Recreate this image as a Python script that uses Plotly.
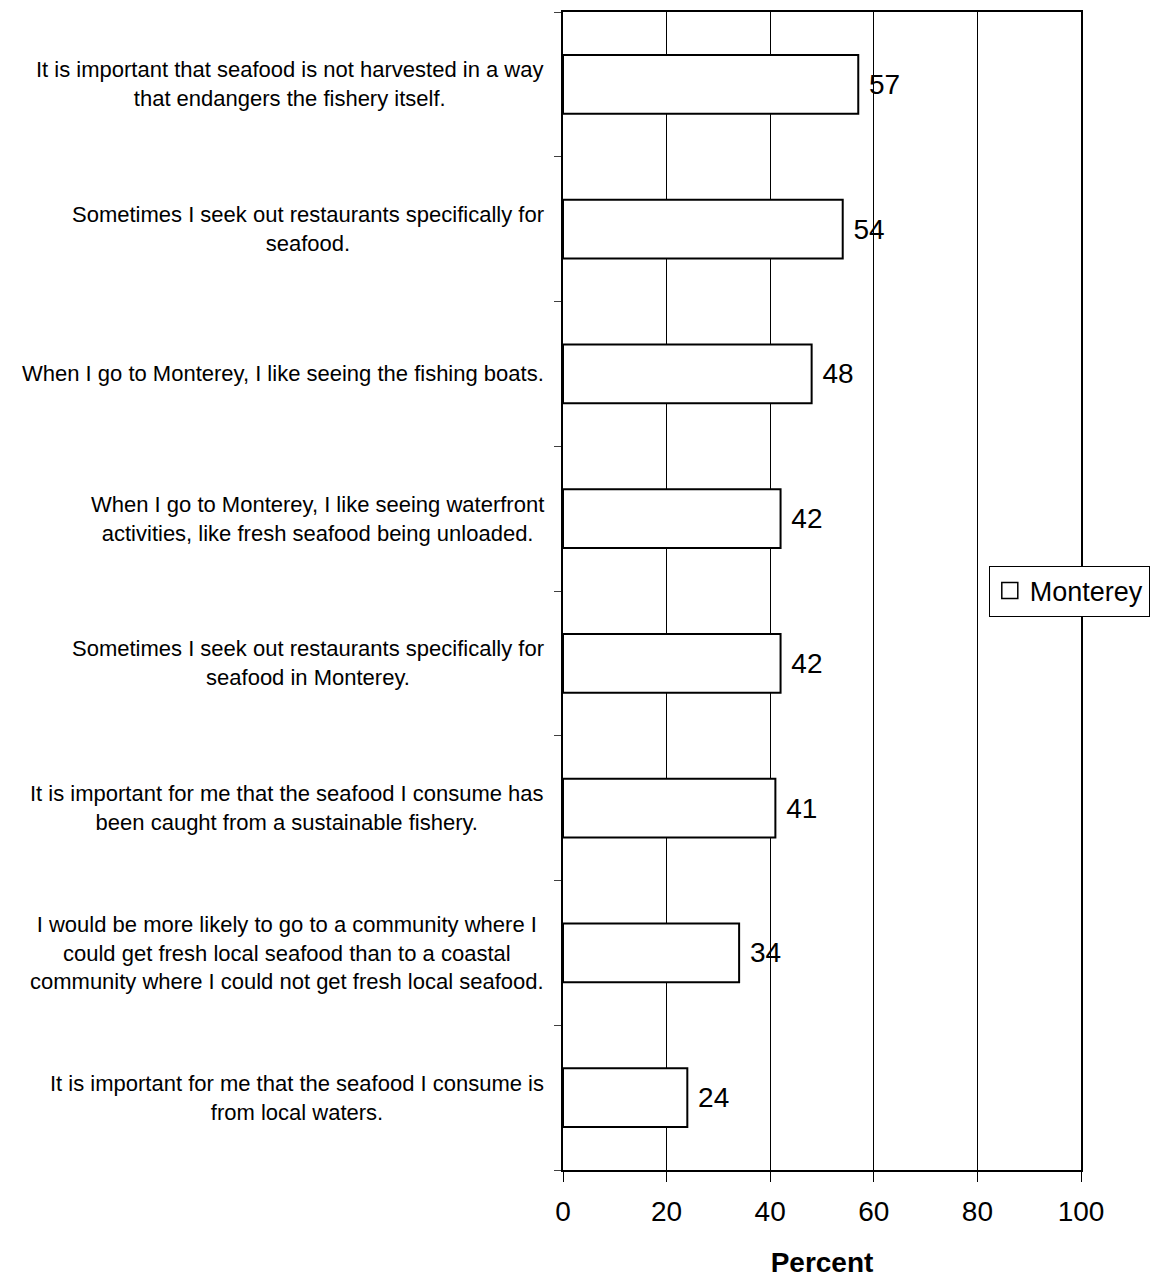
import plotly.graph_objects as go

categories = [
    "It is important that seafood is not harvested in a way<br>that endangers the fishery itself.",
    "Sometimes I seek out restaurants specifically for<br>seafood.",
    "When I go to Monterey, I like seeing the fishing boats.",
    "When I go to Monterey, I like seeing waterfront<br>activities, like fresh seafood being unloaded.",
    "Sometimes I seek out restaurants specifically for<br>seafood in Monterey.",
    "It is important for me that the seafood I consume has<br>been caught from a sustainable fishery.",
    "I would be more likely to go to a community where I<br>could get fresh local seafood than to a coastal<br>community where I could not get fresh local seafood.",
    "It is important for me that the seafood I consume is<br>from local waters.",
]
values = [57, 54, 48, 42, 42, 41, 34, 24]
series_name = "Monterey"
x_ticks = [0, 20, 40, 60, 80, 100]

FONT = "Liberation Sans, Arial, sans-serif"
n = len(categories)

fig = go.Figure()
fig.add_trace(go.Bar(
    y=list(range(n)),
    x=values,
    orientation="h",
    name=series_name,
    marker=dict(color="white", line=dict(color="black", width=2)),
    text=[f" {v}" for v in values],
    textposition="outside",
    textfont=dict(size=28, color="black", family=FONT),
    cliponaxis=False,
    showlegend=False,
))
# legend entry (larger square symbol like the original)
fig.add_trace(go.Scatter(
    x=[None], y=[None], mode="markers", name=series_name,
    marker=dict(symbol="square", size=16, color="white",
                line=dict(color="black", width=1.5)),
    showlegend=True, hoverinfo="skip",
))

annotations = []
for i, c in enumerate(categories):
    annotations.append(dict(
        x=0, xref="paper", xshift=-17, y=i, yref="y",
        text=c, showarrow=False, xanchor="right", yanchor="middle",
        align="center", font=dict(size=22, color="black", family=FONT),
    ))

fig.update_layout(
    width=1156, height=1270,
    margin=dict(l=555, r=83, t=2, b=108),
    paper_bgcolor="white", plot_bgcolor="white",
    font=dict(family=FONT, color="black"),
    bargap=0.594,
    annotations=annotations,
    showlegend=True,
    legend=dict(
        x=0.822, xanchor="left", y=0.5, yanchor="middle",
        bgcolor="white", bordercolor="black", borderwidth=1,
        itemwidth=30,
        font=dict(size=27, color="black", family=FONT),
    ),
    xaxis=dict(
        range=[0, 100], tickvals=x_ticks, ticktext=[str(t) for t in x_ticks],
        showgrid=True, gridcolor="black", gridwidth=1,
        showline=True, linecolor="black", linewidth=2, mirror=True,
        ticks="outside", ticklen=10, tickcolor="black", tickwidth=1,
        ticklabelstandoff=5,
        tickfont=dict(size=28, color="black", family=FONT),
        zeroline=False,
        title=dict(text="<b>Percent</b>", font=dict(size=28, color="black", family=FONT), standoff=30),
    ),
    yaxis=dict(
        range=[n - 0.5, -0.5],
        tickvals=[i - 0.5 for i in range(n + 1)],
        showticklabels=False,
        showgrid=False, zeroline=False,
        showline=True, linecolor="black", linewidth=2, mirror=True,
        ticks="outside", ticklen=7, tickcolor="#404040", tickwidth=1,
    ),
)

fig.write_html("out.html")
